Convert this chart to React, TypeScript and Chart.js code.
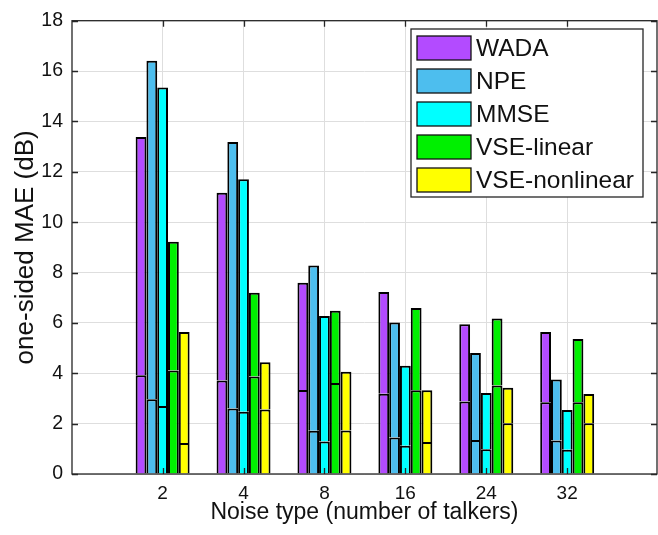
import React, { useEffect, useRef } from 'react';
import { Chart, registerables } from 'chart.js';

Chart.register(...registerables);

// ---- data ----
const categories = ['2', '4', '8', '16', '24', '32'];
const seriesNames = ['WADA', 'NPE', 'MMSE', 'VSE-linear', 'VSE-nonlinear'];
const seriesColors = ['#B34BFF', '#4DBEEE', '#00FFFF', '#00F000', '#FFFF00'];

const wadaTop = [13.38, 11.17, 7.59, 7.23, 5.95, 5.64];
const wadaLow = [3.92, 3.71, 3.34, 3.19, 2.88, 2.85];
const npeTop = [16.41, 13.18, 8.28, 6.02, 4.8, 3.75];
const npeLow = [2.97, 2.6, 1.72, 1.45, 1.35, 1.33];
const mmseTop = [15.35, 11.7, 6.27, 4.3, 3.22, 2.54];
const mmseLow = [2.7, 2.47, 1.29, 1.12, 0.98, 0.96];
const vseLinTop = [9.22, 7.2, 6.48, 6.59, 6.17, 5.36];
const vseLinLow = [4.11, 3.87, 3.61, 3.33, 3.51, 2.85];
const vseNonTop = [5.64, 4.44, 4.06, 3.33, 3.42, 3.18];
const vseNonLow = [1.23, 2.56, 1.73, 1.27, 2.02, 2.02];

const yTickValues = [0, 2, 4, 6, 8, 10, 12, 14, 16, 18];

const tops = [wadaTop, npeTop, mmseTop, vseLinTop, vseNonTop];
const lows = [wadaLow, npeLow, mmseLow, vseLinLow, vseNonLow];

const FONT = "'Liberation Sans', Arial, Helvetica, sans-serif";
const GRID = '#dedede';
const AXIS = '#262626';

const framePlugin = {
  id: 'frame',
  afterDatasetsDraw(chart: any) {
    const { ctx, chartArea: a, scales } = chart;
    ctx.save();
    ctx.strokeStyle = AXIS;
    ctx.lineWidth = 1.3;
    const tl = 6;
    ctx.beginPath();
    scales.x.ticks.forEach((t: any) => {
      const px = Math.round(scales.x.getPixelForValue(t.value)) + 0.5;
      ctx.moveTo(px, a.top);
      ctx.lineTo(px, a.top + tl);
      ctx.moveTo(px, a.bottom);
      ctx.lineTo(px, a.bottom - tl);
    });
    scales.y.ticks.forEach((t: any) => {
      const py = Math.round(scales.y.getPixelForValue(t.value)) + 0.5;
      ctx.moveTo(a.left, py);
      ctx.lineTo(a.left + tl, py);
      ctx.moveTo(a.right, py);
      ctx.lineTo(a.right - tl, py);
    });
    ctx.stroke();
    ctx.strokeRect(a.left, a.top, a.right - a.left, a.bottom - a.top);
    ctx.restore();
  },
};

const boxLegendPlugin = {
  id: 'boxLegend',
  afterDraw(chart: any) {
    const { ctx } = chart;
    const items = chart.data.datasets.filter((d: any) => d.isLegend);
    const bx = 411, by = 29, bw = 232, bh = 168;
    ctx.save();
    ctx.fillStyle = '#ffffff';
    ctx.fillRect(bx, by, bw, bh);
    ctx.strokeStyle = AXIS;
    ctx.lineWidth = 1.3;
    ctx.strokeRect(bx, by, bw, bh);
    ctx.font = `24.5px ${FONT}`;
    ctx.textBaseline = 'middle';
    ctx.textAlign = 'left';
    items.forEach((d: any, i: number) => {
      const cy = 48 + i * 33;
      ctx.fillStyle = d.backgroundColor;
      ctx.fillRect(417, cy - 12, 54, 24);
      ctx.lineWidth = 1.3;
      ctx.strokeStyle = '#111';
      ctx.strokeRect(417, cy - 12, 54, 24);
      ctx.fillStyle = '#111';
      ctx.fillText(d.label, 476, cy + 1);
    });
    ctx.restore();
  },
};

export default function App() {
  const ref = useRef<HTMLCanvasElement | null>(null);

  useEffect(() => {
    if (!ref.current) return;
    const datasets: any[] = [];
    seriesNames.forEach((name, i) => {
      const common = {
        label: name,
        stack: 's' + i,
        backgroundColor: seriesColors[i],
        borderColor: '#000000',
        borderWidth: 2,
        inflateAmount: 0,
      };
      datasets.push({
        ...common,
        isLegend: true,
        data: lows[i].map((v, j) => ({ x: j + 1, y: v })),
      });
      datasets.push({
        ...common,
        data: tops[i].map((v, j) => ({ x: j + 1, y: v - lows[i][j] })),
      });
    });

    const chart = new Chart(ref.current, {
      type: 'bar',
      data: { datasets },
      plugins: [framePlugin, boxLegendPlugin],
      options: {
        responsive: false,
        animation: false,
        categoryPercentage: 0.667,
        barPercentage: 1,
        layout: { padding: { top: 13, right: 1, left: 0, bottom: 0 } },
        plugins: {
          legend: { display: false },
          tooltip: { enabled: false },
        },
        scales: {
          x: {
            type: 'linear',
            min: -0.12,
            max: 7.11,
            offset: false,
            afterBuildTicks: (s: any) => {
              s.ticks = categories.map((_, i) => ({ value: i + 1 }));
            },
            afterFit: (s: any) => {
              s.height = 61;
            },
            ticks: {
              callback: (v: any) => categories[Number(v) - 1] ?? '',
              font: { family: FONT, size: 19 },
              color: '#111',
              padding: 8,
              maxRotation: 0,
              autoSkip: false,
            },
            grid: { color: GRID, drawTicks: false, offset: false, lineWidth: 1 },
            border: { display: false },
            title: {
              display: true,
              text: 'Noise type (number of talkers)',
              font: { family: FONT, size: 23 },
              color: '#111',
              padding: { top: 0, bottom: 9 },
            },
          },
          y: {
            stacked: true,
            min: 0,
            max: 18,
            afterBuildTicks: (s: any) => {
              s.ticks = yTickValues.map((v) => ({ value: v }));
            },
            afterFit: (s: any) => {
              s.width = 72;
            },
            ticks: {
              font: { family: FONT, size: 19.5 },
              color: '#111',
              padding: 9,
            },
            grid: { color: GRID, drawTicks: false, lineWidth: 1 },
            border: { display: false },
            title: {
              display: true,
              text: 'one-sided MAE (dB)',
              font: { family: FONT, size: 26 },
              color: '#111',
              padding: { top: 10, bottom: 0 },
            },
          },
        },
      } as any,
    });
    return () => chart.destroy();
  }, []);

  return (
    <div style={{ position: 'fixed', left: 0, top: 0, width: 658, height: 535, background: '#fff' }}>
      <canvas ref={ref} width={658} height={535} />
    </div>
  );
}
